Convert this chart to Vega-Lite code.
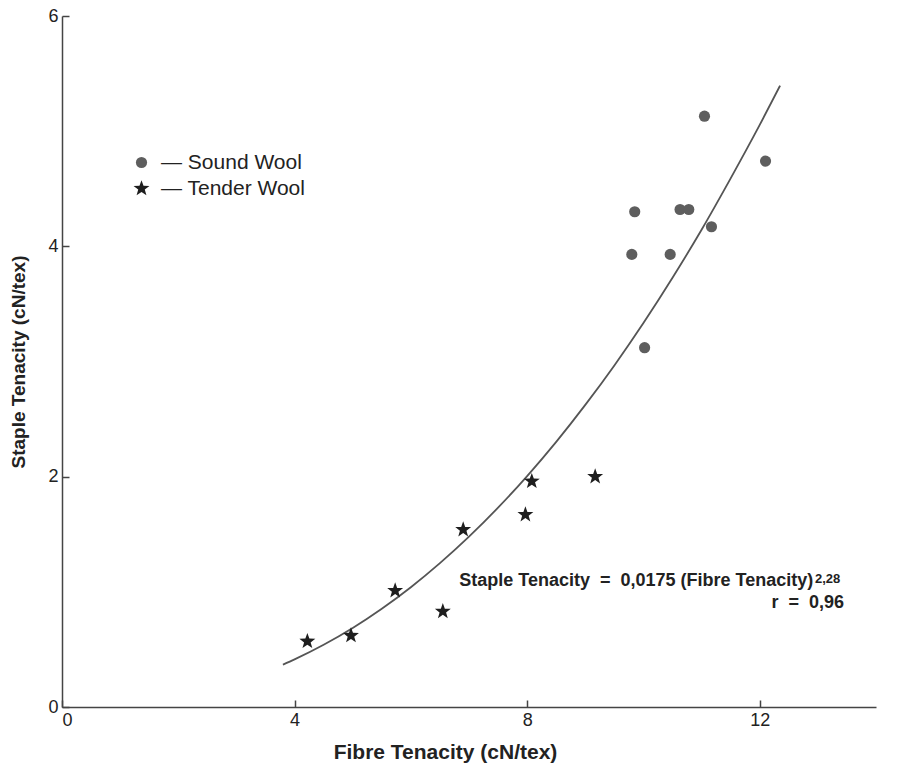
{
  "$schema": "https://vega.github.io/schema/vega-lite/v6.json",
  "width": 814,
  "height": 691,
  "autosize": "none",
  "padding": {"left": 62, "top": 16, "right": 22, "bottom": 56},
  "background": "white",
  "config": {
    "view": {"stroke": null},
    "font": "Liberation Sans",
    "axis": {
      "grid": false,
      "domainColor": "#444",
      "domainWidth": 1.5,
      "tickColor": "#444",
      "tickWidth": 1.5,
      "tickSize": -7,
      "labelPadding": 11,
      "labelFont": "Liberation Sans",
      "labelFontSize": 18,
      "labelColor": "#222",
      "titleFont": "Liberation Sans",
      "titleFontWeight": "bold",
      "titleColor": "#222"
    },
    "legend": {
      "padding": 0,
      "rowPadding": 4,
      "labelFont": "Liberation Sans",
      "labelFontSize": 21,
      "labelColor": "#222",
      "labelOffset": 9
    }
  },
  "datasets": {
    "curve": [
      {"fibre": 3.8, "staple": 0.367},
      {"fibre": 4.0, "staple": 0.413},
      {"fibre": 4.5, "staple": 0.540},
      {"fibre": 5.0, "staple": 0.686},
      {"fibre": 5.5, "staple": 0.853},
      {"fibre": 6.0, "staple": 1.040},
      {"fibre": 6.5, "staple": 1.249},
      {"fibre": 7.0, "staple": 1.479},
      {"fibre": 7.5, "staple": 1.731},
      {"fibre": 8.0, "staple": 2.005},
      {"fibre": 8.5, "staple": 2.302},
      {"fibre": 9.0, "staple": 2.623},
      {"fibre": 9.5, "staple": 2.966},
      {"fibre": 10.0, "staple": 3.334},
      {"fibre": 10.5, "staple": 3.727},
      {"fibre": 11.0, "staple": 4.144},
      {"fibre": 11.5, "staple": 4.590},
      {"fibre": 12.0, "staple": 5.054},
      {"fibre": 12.35, "staple": 5.395}
    ],
    "points": [
      {"fibre": 11.05, "staple": 5.13, "wool": "Sound Wool"},
      {"fibre": 12.10, "staple": 4.74, "wool": "Sound Wool"},
      {"fibre": 9.85, "staple": 4.30, "wool": "Sound Wool"},
      {"fibre": 10.63, "staple": 4.32, "wool": "Sound Wool"},
      {"fibre": 10.78, "staple": 4.32, "wool": "Sound Wool"},
      {"fibre": 11.17, "staple": 4.17, "wool": "Sound Wool"},
      {"fibre": 9.80, "staple": 3.93, "wool": "Sound Wool"},
      {"fibre": 10.46, "staple": 3.93, "wool": "Sound Wool"},
      {"fibre": 10.02, "staple": 3.12, "wool": "Sound Wool"},
      {"fibre": 4.22, "staple": 0.57, "wool": "Tender Wool"},
      {"fibre": 4.97, "staple": 0.62, "wool": "Tender Wool"},
      {"fibre": 5.73, "staple": 1.01, "wool": "Tender Wool"},
      {"fibre": 6.55, "staple": 0.83, "wool": "Tender Wool"},
      {"fibre": 6.90, "staple": 1.54, "wool": "Tender Wool"},
      {"fibre": 7.97, "staple": 1.67, "wool": "Tender Wool"},
      {"fibre": 8.08, "staple": 1.96, "wool": "Tender Wool"},
      {"fibre": 9.17, "staple": 2.00, "wool": "Tender Wool"}
    ],
    "mainNotes": [
      {"fibre": 12.92, "staple": 1.05, "label": "Staple Tenacity\u00a0\u00a0=\u00a0\u00a00,0175 (Fibre Tenacity)"},
      {"fibre": 13.45, "staple": 0.86, "label": "r\u00a0\u00a0=\u00a0\u00a00,96"}
    ],
    "supNotes": [
      {"fibre": 12.95, "staple": 1.075, "label": "2,28"}
    ]
  },
  "encoding": {
    "x": {
      "field": "fibre", "type": "quantitative",
      "scale": {"domain": [0, 14], "nice": false, "zero": true},
      "axis": {"orient": "bottom", "values": [0, 4, 8, 12], "format": "d", "title": "Fibre Tenacity (cN/tex)", "titleFontSize": 21, "titlePadding": 12, "titleX": 383}
    },
    "y": {
      "field": "staple", "type": "quantitative",
      "scale": {"domain": [0, 6], "nice": false},
      "axis": {"orient": "left", "values": [0, 2, 4, 6], "format": "d", "title": "Staple Tenacity (cN/tex)", "titleFontSize": 19, "titlePadding": 19}
    }
  },
  "layer": [
    {
      "data": {"name": "curve"},
      "mark": {"type": "line", "color": "#555", "strokeWidth": 1.8, "interpolate": "monotone"},
      "encoding": {}
    },
    {
      "data": {"name": "points"},
      "mark": {"type": "point", "filled": true, "opacity": 1},
      "encoding": {
        "shape": {
          "field": "wool", "type": "nominal",
          "scale": {"domain": ["Sound Wool", "Tender Wool"], "range": ["circle", "M0,-1L0.24,-0.33L0.951,-0.309L0.39,0.127L0.588,0.809L0,0.41L-0.588,0.809L-0.39,0.127L-0.951,-0.309L-0.24,-0.33Z"]},
          "legend": {"title": null, "orient": "none", "legendX": 69, "legendY": 136, "labelExpr": "'— ' + datum.label"}
        },
        "color": {
          "field": "wool", "type": "nominal",
          "scale": {"domain": ["Sound Wool", "Tender Wool"], "range": ["#5e5e5e", "#1e1e1e"]},
          "legend": {"title": null, "orient": "none", "legendX": 69, "legendY": 136, "labelExpr": "'— ' + datum.label"}
        },
        "size": {
          "field": "wool", "type": "nominal",
          "scale": {"domain": ["Sound Wool", "Tender Wool"], "range": [125, 280]},
          "legend": null
        }
      }
    },
    {
      "data": {"name": "mainNotes"},
      "mark": {"type": "text", "align": "right", "baseline": "alphabetic", "fontSize": 18, "fontWeight": "bold", "color": "#222"},
      "encoding": {"text": {"field": "label"}}
    },
    {
      "data": {"name": "supNotes"},
      "mark": {"type": "text", "align": "left", "baseline": "alphabetic", "fontSize": 13, "fontWeight": "bold", "color": "#222"},
      "encoding": {"text": {"field": "label"}}
    }
  ]
}
